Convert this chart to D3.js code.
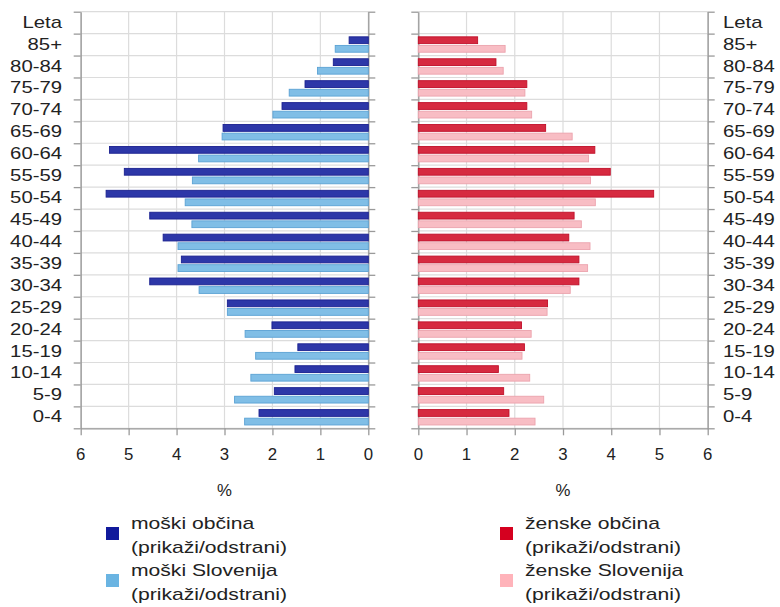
<!DOCTYPE html>
<html>
<head>
<meta charset="utf-8">
<script src="https://cdn.jsdelivr.net/npm/d3@7"></script>
<style>
  body { margin: 0; background: #fff; }
  text { font-family: "Liberation Sans", Arial, sans-serif; font-size: 16px; fill: #222; }
</style>
</head>
<body>
<svg id="chart" width="780" height="607"></svg>
<script>
var ageGroups = ["85+", "80-84", "75-79", "70-74", "65-69", "60-64", "55-59", "50-54", "45-49",
  "40-44", "35-39", "30-34", "25-29", "20-24", "15-19", "10-14", "5-9", "0-4"];
var maleMunicipality = [0.40, 0.73, 1.32, 1.80, 3.03, 5.40, 5.09, 5.47, 4.56, 4.28, 3.90, 4.56, 2.94, 2.01, 1.47, 1.53, 1.96, 2.28];
var maleSlovenia = [0.69, 1.06, 1.65, 1.99, 3.05, 3.54, 3.67, 3.82, 3.68, 3.97, 3.97, 3.53, 2.94, 2.57, 2.35, 2.45, 2.79, 2.58];
var femaleMunicipality = [1.23, 1.61, 2.25, 2.25, 2.64, 3.66, 3.98, 4.88, 3.23, 3.12, 3.33, 3.33, 2.68, 2.14, 2.20, 1.66, 1.77, 1.88];
var femaleSlovenia = [1.80, 1.76, 2.21, 2.35, 3.19, 3.53, 3.57, 3.67, 3.38, 3.56, 3.51, 3.15, 2.67, 2.34, 2.15, 2.31, 2.60, 2.42];
var xTicks = [0, 1, 2, 3, 4, 5, 6];
var headerLabel = "Leta";
var axisTitle = "%";
var legendNames = ["moški občina", "moški Slovenija", "ženske občina", "ženske Slovenija"];
var legendToggle = "(prikaži/odstrani)";

var colors = {
  maleMun: {fill: "#2d37a8", stroke: "#1b2190", swatch: "#111a9c"},
  maleSlo: {fill: "#80bee6", stroke: "#5ba2d4", swatch: "#6ab4e2"},
  femMun: {fill: "#d62a40", stroke: "#c0102a", swatch: "#d5001f"},
  femSlo: {fill: "#f8bdc4", stroke: "#eba3ad", swatch: "#ffb3ba"}
};

var svg = d3.select("#chart");
var STRETCH = 1.27; // the text in the picture is a little wide

var plotTop = 11.7, plotBottom = 428.3;
var rows = [headerLabel].concat(ageGroups);
var y = d3.scaleBand().domain(rows).range([plotTop, plotBottom]);
var yEdge = d3.scaleLinear().domain([0, rows.length]).range([plotTop, plotBottom]);
var xLeft = d3.scaleLinear().domain([6, 0]).range([80.7, 368.3]);
var xRight = d3.scaleLinear().domain([0, 6]).range([418.3, 707.7]);

function wideText(g, x, yy, str, anchor, sx) {
  return g.append("text")
    .attr("transform", "translate(" + x + "," + yy + ") scale(" + (sx || STRETCH) + ",1)")
    .attr("text-anchor", anchor || "start")
    .text(str);
}

function panel(x) {
  var g = svg.append("g");
  var r = x.range();
  var x0 = Math.min(r[0], r[1]), x1 = Math.max(r[0], r[1]);

  // grid
  g.selectAll(".vgrid").data(xTicks).enter().append("line")
    .attr("x1", function(d){ return x(d); }).attr("x2", function(d){ return x(d); })
    .attr("y1", plotTop).attr("y2", plotBottom)
    .attr("stroke", "#dcdcdc").attr("stroke-width", 1.2);
  g.selectAll(".hgrid").data(d3.range(rows.length + 1)).enter().append("line")
    .attr("x1", x0).attr("x2", x1)
    .attr("y1", function(d){ return yEdge(d); }).attr("y2", function(d){ return yEdge(d); })
    .attr("stroke", "#dcdcdc").attr("stroke-width", 1.2);

  // side axes with outward ticks
  var axL = d3.axisLeft(yEdge).tickValues(d3.range(rows.length + 1)).tickFormat("").tickSize(7).tickSizeOuter(0);
  var axR = d3.axisRight(yEdge).tickValues(d3.range(rows.length + 1)).tickFormat("").tickSize(7).tickSizeOuter(0);
  g.append("g").attr("transform", "translate(" + x0 + ",0)").call(axL);
  g.append("g").attr("transform", "translate(" + x1 + ",0)").call(axR);

  var axB = d3.axisBottom(x).tickValues(xTicks).tickSize(7).tickSizeOuter(0).tickFormat("");
  g.append("g").attr("transform", "translate(0," + plotBottom + ")").call(axB);
  g.selectAll(".domain, .tick line").attr("stroke", "#9a9a9a").attr("stroke-width", 1.3);

  xTicks.forEach(function(t){
    wideText(g, x(t), 460, String(t), "middle", 1.05);
  });
  wideText(g, (x0 + x1) / 2, 496, axisTitle, "middle", 1.05);
  return g;
}

function bars(g, x, values, style, offset) {
  g.selectAll(null).data(values).enter().append("rect")
    .attr("x", function(d){ return Math.min(x(0), x(d)); })
    .attr("width", function(d){ return Math.abs(x(d) - x(0)); })
    .attr("y", function(d, i){ return y(ageGroups[i]) + offset; })
    .attr("height", 6.8)
    .attr("fill", style.fill)
    .attr("stroke", style.stroke)
    .attr("stroke-width", 0.9);
}

var gl = panel(xLeft);
var gr = panel(xRight);
bars(gl, xLeft, maleMunicipality, colors.maleMun, 3.2);
bars(gl, xLeft, maleSlovenia, colors.maleSlo, 11.8);
bars(gr, xRight, femaleMunicipality, colors.femMun, 3.2);
bars(gr, xRight, femaleSlovenia, colors.femSlo, 11.8);

// row labels on both sides
rows.forEach(function(r){
  var cy = y(r) + y.bandwidth() / 2 + 5;
  wideText(svg, 62, cy, r, "end");
  wideText(svg, 723, cy, r, "start");
});

// legend
var legend = [
  {name: legendNames[0], c: colors.maleMun.swatch, x: 106, y: 527},
  {name: legendNames[1], c: colors.maleSlo.swatch, x: 106, y: 574},
  {name: legendNames[2], c: colors.femMun.swatch, x: 500, y: 527},
  {name: legendNames[3], c: colors.femSlo.swatch, x: 500, y: 574}
];
legend.forEach(function(l){
  svg.append("rect").attr("x", l.x).attr("y", l.y).attr("width", 13).attr("height", 13).attr("fill", l.c);
  wideText(svg, l.x + 25, l.y + 2, l.name, "start", 1.32);
  wideText(svg, l.x + 25, l.y + 26, legendToggle, "start", 1.32);
});
</script>
</body>
</html>
